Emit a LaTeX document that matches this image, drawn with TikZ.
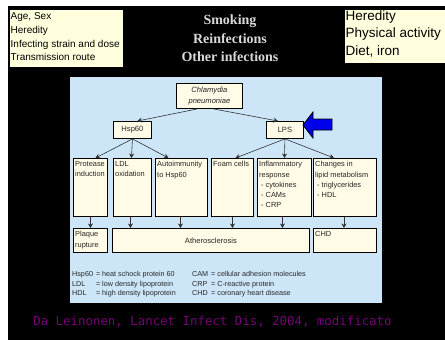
\documentclass[tikz,border=0pt]{standalone}
\usepackage{fontspec}
\setmainfont{Liberation Sans}
\newfontfamily\titleserif{Liberation Serif}
\newfontfamily\sourcemono{DejaVu Sans Mono}
\usepackage{xcolor}
\usetikzlibrary{arrows.meta, positioning}

\definecolor{panelblue}{RGB}{204,230,248}
\definecolor{cellcream}{RGB}{255,251,230}
\definecolor{notecream}{RGB}{255,255,222}
\definecolor{pointblue}{RGB}{0,0,235}
\definecolor{sourcepurple}{RGB}{118,0,118}

\begin{document}
\begin{tikzpicture}[x=1pt, y=-1pt, >={Stealth[length=4.5pt, width=5pt]},
    cell/.style={draw=black, fill=cellcream, line width=0.9pt, anchor=north west, inner sep=0pt},
    celltext/.style={anchor=north west, align=left, inner xsep=2pt, inner ysep=3.2pt, text=black!85,
        font=\fontsize{7.4}{10.3}\selectfont},
    note/.style={draw=black, fill=notecream, line width=0.6pt, anchor=north west, inner sep=0pt},
    link/.style={->, black!80, line width=0.6pt}]

    \useasboundingbox (0,0) rectangle (445,340);

    % =================================================================
    % 1. BACKGROUND, SLIDE AND LIGHT BLUE PANEL
    % =================================================================
    \fill[white] (0,0) rectangle (445,340);
    \fill[black] (8,6) rectangle (445,340);
    \fill[panelblue] (70,77) rectangle (382,303);

    % =================================================================
    % 2. RISK FACTORS ON TOP OF THE SLIDE
    % =================================================================
    \node[note, minimum width=114, minimum height=58] (host) at (9,9) {};
    \node[anchor=north west, align=left, inner xsep=1.5pt, inner ysep=3.5pt,
        font=\fontsize{10}{13.7}\selectfont]
        at (host.north west) {Age, Sex\\Heredity\\Infecting strain and dose\\Transmission route};

    \node[align=center, text=white!85!black, font=\titleserif\bfseries\fontsize{14}{18.5}\selectfont]
        (cofactors) at (230,38.5) {Smoking\\Reinfections\\Other infections};

    \node[note, minimum width=104, minimum height=54] (lifestyle) at (344,9) {};
    \node[anchor=north west, align=left, inner sep=1.5pt, font=\fontsize{13.5}{17.5}\selectfont]
        at (lifestyle.north west) {Heredity\\Physical activity\\Diet, iron};

    % =================================================================
    % 3. BOXES OF THE DIAGRAM
    % =================================================================
    % Agent and its two components
    \node[cell, minimum width=66, minimum height=25] (chlamydia) at (176,83) {};
    \node[align=center, inner sep=0pt, text=black!85, font=\itshape\fontsize{7.6}{10.5}\selectfont]
        at (chlamydia.center) {Chlamydia\\pneumoniae};
    \node[cell, minimum width=38, minimum height=17] (hsp) at (113,121) {};
    \node[text=black!85, inner sep=0pt, font=\fontsize{7.6}{10}\selectfont] at (hsp.center) {Hsp60};
    \node[cell, minimum width=37, minimum height=17] (lps) at (266,121) {};
    \node[text=black!85, inner sep=0pt, font=\fontsize{7.6}{10}\selectfont] at (lps.center) {LPS};

    % Mechanisms
    \node[cell, minimum width=34, minimum height=58] (protease) at (73,158) {};
    \node[celltext] at (protease.north west) {Protease\\induction};
    \node[cell, minimum width=38, minimum height=58] (ldl) at (113,158) {};
    \node[celltext] at (ldl.north west) {LDL\\oxidation};
    \node[cell, minimum width=52, minimum height=58] (autoimm) at (155,158) {};
    \node[celltext] at (autoimm.north west) {Autoimmunity\\to Hsp60};
    \node[cell, minimum width=42, minimum height=58] (foam) at (211,158) {};
    \node[celltext] at (foam.north west) {Foam cells};
    \node[cell, minimum width=54, minimum height=58] (inflam) at (257,158) {};
    \node[celltext] at (inflam.north west)
        {Inflammatory\\response\\\hspace{2pt}- cytokines\\\hspace{2pt}- CAMs\\\hspace{2pt}- CRP};
    \node[cell, minimum width=63, minimum height=58] (lipid) at (313,158) {};
    \node[celltext] at (lipid.north west)
        {Changes in\\lipid metabolism\\\hspace{2pt}- triglycerides\\\hspace{2pt}- HDL};

    % Outcomes
    \node[cell, minimum width=34, minimum height=24] (plaque) at (73,228) {};
    \node[celltext] at (plaque.north west) {Plaque\\rupture};
    \node[cell, minimum width=197, minimum height=24] (athero) at (112,228) {};
    \node[text=black!85, inner sep=0pt, font=\fontsize{7.6}{10}\selectfont] at (athero.center) {Atherosclerosis};
    \node[cell, minimum width=63, minimum height=24] (chd) at (313,228) {};
    \node[celltext] at (chd.north west) {CHD};

    % Blue pointer beside LPS
    \draw[fill=pointblue, line width=0.8pt] (303,125) -- (313,112) -- (313,119) -- (332,119)
        -- (332,130) -- (313,130) -- (313,138) -- cycle;

    % =================================================================
    % 4. CONNECTORS
    % =================================================================
    \draw[link] ([xshift=-12pt]chlamydia.south) -- ([xshift=5pt]hsp.north);
    \draw[link] ([xshift=4pt]chlamydia.south) -- ([xshift=-7pt]lps.north);

    \draw[link] (hsp.south) -- ([xshift=5pt]protease.north);
    \draw[link] (hsp.south) -- ([xshift=-1pt]ldl.north);
    \draw[link] (hsp.south) -- ([xshift=-13pt]autoimm.north);
    \draw[link] (lps.south) -- ([xshift=3pt]foam.north);
    \draw[link] (lps.south) -- ([xshift=0pt]inflam.north);
    \draw[link] (lps.south) -- ([xshift=-11pt]lipid.north);

    \draw[link] (protease.south) -- (protease.south |- plaque.north);
    \draw[link] ([xshift=-2pt]ldl.south) -- ([xshift=-2pt]ldl.south |- athero.north);
    \draw[link] ([xshift=-1pt]autoimm.south) -- ([xshift=-1pt]autoimm.south |- athero.north);
    \draw[link] (foam.south) -- (foam.south |- athero.north);
    \draw[link] ([xshift=-2pt]inflam.south) -- ([xshift=-2pt]inflam.south |- athero.north);
    \draw[link] ([xshift=-1pt]lipid.south) -- ([xshift=-1pt]lipid.south |- chd.north);

    % =================================================================
    % 5. LEGEND AND SOURCE
    % =================================================================
    \node[anchor=north west, inner sep=0pt, text=black!85, font=\fontsize{7.2}{9.5}\selectfont]
        (abbrevleft) at (72,270) {%
        \begin{tabular}{@{}l@{\hspace{3pt}}l@{}}
            Hsp60 & = heat schock protein 60\\
            LDL & = low density lipoprotein\\
            HDL & = high density lipoprotein
        \end{tabular}};
    \node[anchor=north west, inner sep=0pt, text=black!85, font=\fontsize{7.2}{9.5}\selectfont]
        (abbrevright) at (192,270) {%
        \begin{tabular}{@{}l@{\hspace{3pt}}l@{}}
            CAM & = cellular adhesion molecules\\
            CRP & = C-reactive protein\\
            CHD & = coronary heart disease
        \end{tabular}};

    \node[text=sourcepurple, font=\sourcemono\fontsize{12.4}{14}\selectfont]
        (source) at (212.5,322) {Da Leinonen, Lancet Infect Dis, 2004, modificato};

\end{tikzpicture}
\end{document}
